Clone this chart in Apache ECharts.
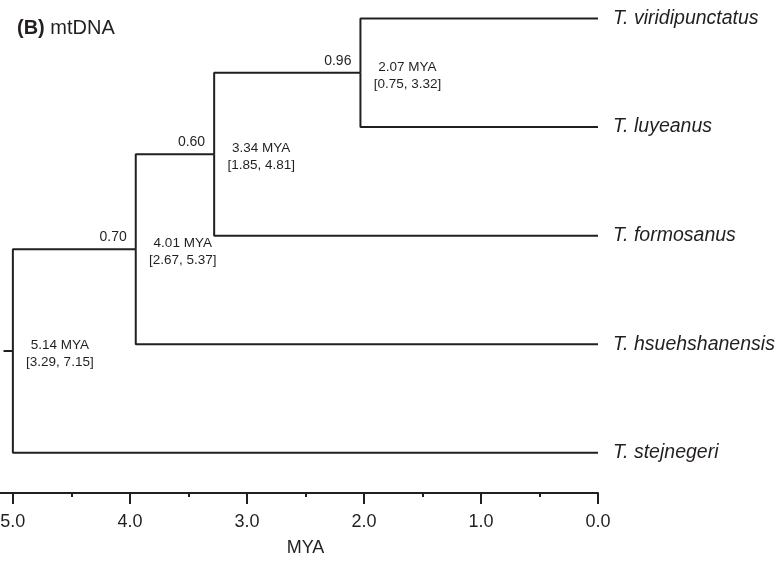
<!DOCTYPE html>
<html>
<head>
<meta charset="utf-8">
<script src="https://cdn.jsdelivr.net/npm/echarts@6/dist/echarts.min.js"></script>
<style>
html,body{margin:0;padding:0;background:#fff;}
#chart{width:782px;height:562px;}
</style>
</head>
<body>
<div id="chart"></div>
<script>
// ---- data ----
const taxa = ['T. viridipunctatus', 'T. luyeanus', 'T. formosanus', 'T. hsuehshanensis', 'T. stejnegeri'];
const nodeIds = ['root', 'n1', 'n2', 'n3'];
const nodeChildren = [
  ['n1', 'T. stejnegeri'],
  ['n2', 'T. hsuehshanensis'],
  ['n3', 'T. formosanus'],
  ['T. viridipunctatus', 'T. luyeanus']
];
const nodePosMYA = [5.0, 3.95, 3.28, 2.03];      // drawn position of each node on the MYA axis
const nodeAgeText = ['5.14 MYA', '4.01 MYA', '3.34 MYA', '2.07 MYA'];
const nodeHPDText = ['[3.29, 7.15]', '[2.67, 5.37]', '[1.85, 4.81]', '[0.75, 3.32]'];
const nodeSupport = [null, '0.70', '0.60', '0.96'];
const tipMYA = 0.0;
const rootStubMYA = 5.08;
const majorTicks = [5, 4, 3, 2, 1, 0];
const minorTicks = [4.5, 3.5, 2.5, 1.5, 0.5];
const axisMin = 0, axisMax = 5.11;

// ---- layout of the tree ----
const INK = '#231f20';
const FONT = 'Liberation Sans, Arial, Helvetica, sans-serif';
const pos = {};
taxa.forEach((t, i) => { pos[t] = [tipMYA, i]; });
for (let k = nodeIds.length - 1; k >= 0; k--) {
  const ch = nodeChildren[k];
  const ys = ch.map(c => pos[c][1]);
  pos[nodeIds[k]] = [nodePosMYA[k], ys.reduce((a, b) => a + b, 0) / ys.length];
}

const lineStyle = { color: INK, width: 2 };
const series = [];
nodeIds.forEach((id, k) => {
  const p = pos[id];
  nodeChildren[k].forEach(c => {
    const q = pos[c];
    series.push({
      type: 'line', data: [[p[0], p[1]], [p[0], q[1]], [q[0], q[1]]],
      symbol: 'none', lineStyle: lineStyle, silent: true, animation: false, clip: false
    });
  });
});
// root stub
series.push({
  type: 'line', data: [[rootStubMYA, pos.root[1]], [pos.root[0], pos.root[1]]],
  symbol: 'none', lineStyle: lineStyle, silent: true, animation: false, clip: false
});
const labelBase = { show: true, color: INK, fontFamily: FONT, opacity: 1 };
// tip labels
series.push({
  type: 'scatter', symbolSize: 0, animation: false, silent: true, itemStyle: { opacity: 1 },
  data: taxa.map(t => ({ value: pos[t], name: t })),
  label: Object.assign({}, labelBase, {
    position: 'right', distance: 15, formatter: p => p.name,
    fontStyle: 'italic', fontSize: 19.5
  })
});
// support values
series.push({
  type: 'scatter', symbolSize: 0, animation: false, silent: true, itemStyle: { opacity: 1 },
  data: nodeIds.map((id, k) => ({ value: pos[id], name: nodeSupport[k] || '' })),
  label: Object.assign({}, labelBase, {
    position: [-9, -12], align: 'right', verticalAlign: 'middle',
    formatter: p => p.name, fontSize: 14
  })
});
// node ages
series.push({
  type: 'scatter', symbolSize: 0, animation: false, silent: true, itemStyle: { opacity: 1 },
  data: nodeIds.map((id, k) => ({ value: pos[id], name: nodeAgeText[k] + '\n' + nodeHPDText[k] })),
  label: Object.assign({}, labelBase, {
    position: [47, 3], align: 'center', verticalAlign: 'middle',
    formatter: p => p.name, fontSize: 13.5, lineHeight: 17
  })
});

const chart = echarts.init(document.getElementById('chart'), null, { renderer: 'canvas' });
chart.setOption({
  backgroundColor: '#fff',
  animation: false,
  title: {
    text: '{b|(B)} mtDNA', left: 12, top: 13,
    textStyle: {
      fontSize: 20, fontWeight: 'normal', color: INK, fontFamily: FONT,
      rich: { b: { fontSize: 20, fontWeight: 'bold', color: INK, fontFamily: FONT } }
    }
  },
  grid: { left: 0, right: 184, top: 0, bottom: 69, containLabel: false, outerBoundsMode: 'none' },
  xAxis: [{
    type: 'value', min: axisMin, max: axisMax, inverse: true, position: 'bottom',
    name: 'MYA', nameLocation: 'middle', nameGap: 46,
    nameTextStyle: { fontSize: 18, color: INK, fontFamily: FONT, padding: [0, 0, 0, 13] },
    axisLine: { show: true, onZero: false, lineStyle: { color: INK, width: 2 } },
    axisTick: { show: true, length: 11, customValues: majorTicks, lineStyle: { color: INK, width: 2 } },
    axisLabel: {
      show: true, customValues: majorTicks, margin: 20, fontSize: 18, color: INK, fontFamily: FONT,
      formatter: v => Number(v).toFixed(1)
    },
    splitLine: { show: false }
  }, {
    type: 'value', min: axisMin, max: axisMax, inverse: true, position: 'bottom', offset: 0,
    axisLine: { show: false, onZero: false },
    axisTick: { show: true, length: 4, customValues: minorTicks, lineStyle: { color: INK, width: 2 } },
    axisLabel: { show: false },
    splitLine: { show: false }
  }],
  yAxis: { type: 'value', inverse: true, min: -0.17, max: 4.37, show: false },
  series: series
});
</script>
</body>
</html>
